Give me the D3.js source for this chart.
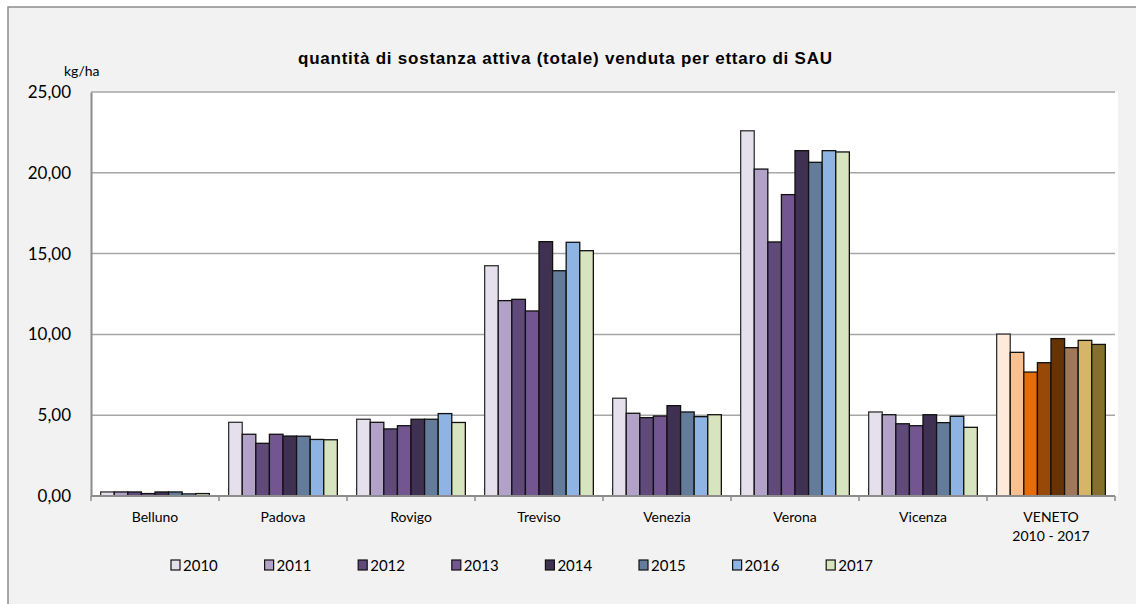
<!doctype html>
<html>
<head>
<meta charset="utf-8"/>
<title>quantità di sostanza attiva</title>
<script src="https://d3js.org/d3.v7.min.js"></script>
<style>
body { margin:0; background:#fff; }
text { font-family: Lato, "Open Sans", sans-serif; fill:#000; }
</style>
</head>
<body>
<script type="text/javascript">
// dati (kg/ha)
var categorie = ["Belluno","Padova","Rovigo","Treviso","Venezia","Verona","Vicenza","VENETO\n2010 - 2017"];
var anni = ["2010","2011","2012","2013","2014","2015","2016","2017"];
var v2010 = [0.25, 4.56, 4.75, 14.25, 6.05, 22.60, 5.20, 10.02];
var v2011 = [0.25, 3.82, 4.56, 12.09, 5.12, 20.23, 5.03, 8.89];
var v2012 = [0.25, 3.26, 4.15, 12.17, 4.85, 15.72, 4.47, 7.67];
var v2013 = [0.15, 3.82, 4.35, 11.45, 4.95, 18.65, 4.35, 8.25];
var v2014 = [0.25, 3.71, 4.75, 15.74, 5.59, 21.37, 5.03, 9.74];
var v2015 = [0.25, 3.70, 4.75, 13.94, 5.20, 20.65, 4.54, 9.18];
var v2016 = [0.13, 3.50, 5.10, 15.70, 4.91, 21.37, 4.93, 9.63];
var v2017 = [0.15, 3.48, 4.55, 15.18, 5.03, 21.29, 4.25, 9.38];
var serie = [v2010, v2011, v2012, v2013, v2014, v2015, v2016, v2017];
var yTicks = [0, 5, 10, 15, 20, 25];

var colori = ["#E6E0EC","#B3A2C7","#604A7B","#735690","#403152","#647B9C","#8EB4E3","#D7E4BD"];
var coloriVeneto = ["#FDEADA","#FAC090","#E46C0A","#984807","#663305","#A07858","#D6B568","#84702A"];

var W = 1136, H = 604;
var svg = d3.select("body").append("svg").attr("width", W).attr("height", H);

// sfondo e cornice
svg.append("rect").attr("x", 0).attr("y", 0).attr("width", W).attr("height", H).attr("fill", "#fff");
svg.append("rect").attr("x", 8).attr("y", 7).attr("width", W + 10).attr("height", H + 10)
  .attr("fill", "#F2F2F2").attr("stroke", "#8c8c8c").attr("stroke-width", 1.5);

var L = 91, R = 1115, T = 92, B = 496;
svg.append("rect").attr("x", L).attr("y", T).attr("width", R - L + 3).attr("height", B - T).attr("fill", "#fff");

var x0 = d3.scaleBand().domain(categorie).range([L, R]).padding(0);
var x1 = d3.scaleBand().domain(anni).range([0, x0.bandwidth()]).paddingInner(0).paddingOuter(0.71);
var y = d3.scaleLinear().domain([0, 25]).range([B, T]);

var it = d3.formatLocale({decimal: ",", thousands: ".", grouping: [3], currency: ["", "€"]});
var fmt = it.format(".2f");

// griglia
svg.append("g").selectAll("line").data(yTicks.filter(function(d){ return d > 0; })).enter()
  .append("line")
  .attr("x1", L).attr("x2", R)
  .attr("y1", function(d){ return y(d); }).attr("y2", function(d){ return y(d); })
  .attr("stroke", "#a6a6a6").attr("stroke-width", 1.5);

// barre
var gruppi = svg.append("g").selectAll("g").data(categorie).enter().append("g")
  .attr("transform", function(d){ return "translate(" + x0(d) + ",0)"; });

gruppi.selectAll("rect")
  .data(function(c, i){
    return anni.map(function(a, j){ return {anno: a, v: serie[j][i], veneto: i === categorie.length - 1, j: j}; });
  })
  .enter().append("rect")
  .attr("x", function(d){ return x1(d.anno); })
  .attr("width", x1.bandwidth())
  .attr("y", function(d){ return y(d.v); })
  .attr("height", function(d){ return B - y(d.v); })
  .attr("fill", function(d){ return d.veneto ? coloriVeneto[d.j] : colori[d.j]; })
  .attr("stroke", function(d){ return d.j === 0 ? "#333" : "#111"; })
  .attr("stroke-width", 1.3);

// assi
var yAxis = d3.axisLeft(y).tickValues(yTicks).tickSize(0).tickPadding(20).tickFormat(fmt);
var gy = svg.append("g").attr("transform", "translate(" + L + ",0)").call(yAxis);
gy.select(".domain").attr("stroke", "#8c8c8c").attr("stroke-width", 2);
gy.selectAll("text").style("font-size", "17px").style("font-family", "Lato, sans-serif");

var gx = svg.append("g").attr("transform", "translate(0," + B + ")");
gx.append("line").attr("x1", L).attr("x2", R).attr("y1", 0).attr("y2", 0)
  .attr("stroke", "#8c8c8c").attr("stroke-width", 2);
var bordi = categorie.map(function(c){ return x0(c); }).concat([R]);
gx.selectAll("line.tick").data(bordi).enter().append("line")
  .attr("class", "tick")
  .attr("x1", function(d){ return d; }).attr("x2", function(d){ return d; })
  .attr("y1", 0).attr("y2", 5)
  .attr("stroke", "#8c8c8c").attr("stroke-width", 1.5);

gx.selectAll("text.cat").data(categorie).enter().append("text")
  .attr("class", "cat")
  .attr("text-anchor", "middle")
  .attr("x", function(d){ return x0(d) + x0.bandwidth() / 2; })
  .attr("y", 26)
  .style("font-size", "14px")
  .each(function(d){
    var righe = d.split("\n");
    var t = d3.select(this);
    righe.forEach(function(r, k){
      t.append("tspan").attr("x", x0(d) + x0.bandwidth() / 2).attr("dy", k === 0 ? 0 : 19).text(r);
    });
  });

// titoli
svg.append("text").attr("x", 565).attr("y", 64).attr("text-anchor", "middle")
  .attr("textLength", 534).attr("lengthAdjust", "spacing")
  .style("font-family", "'Liberation Sans', Arial, sans-serif").style("font-weight", "bold").style("font-size", "17px")
  .text("quantità di sostanza attiva (totale) venduta per ettaro di SAU");
svg.append("text").attr("x", 64).attr("y", 76).style("font-size", "14px").text("kg/ha");

// legenda
var leg = svg.append("g").selectAll("g").data(anni).enter().append("g")
  .attr("transform", function(d, i){ return "translate(" + (171 + i * 93.6) + ",560)"; });
leg.append("rect").attr("x", 0).attr("y", 0).attr("width", 9).attr("height", 10)
  .attr("fill", function(d, i){ return colori[i]; }).attr("stroke", "#111").attr("stroke-width", 1.2);
leg.append("text").attr("x", 12).attr("y", 10.5).style("font-size", "15px").text(function(d){ return d; });
</script>
</body>
</html>
